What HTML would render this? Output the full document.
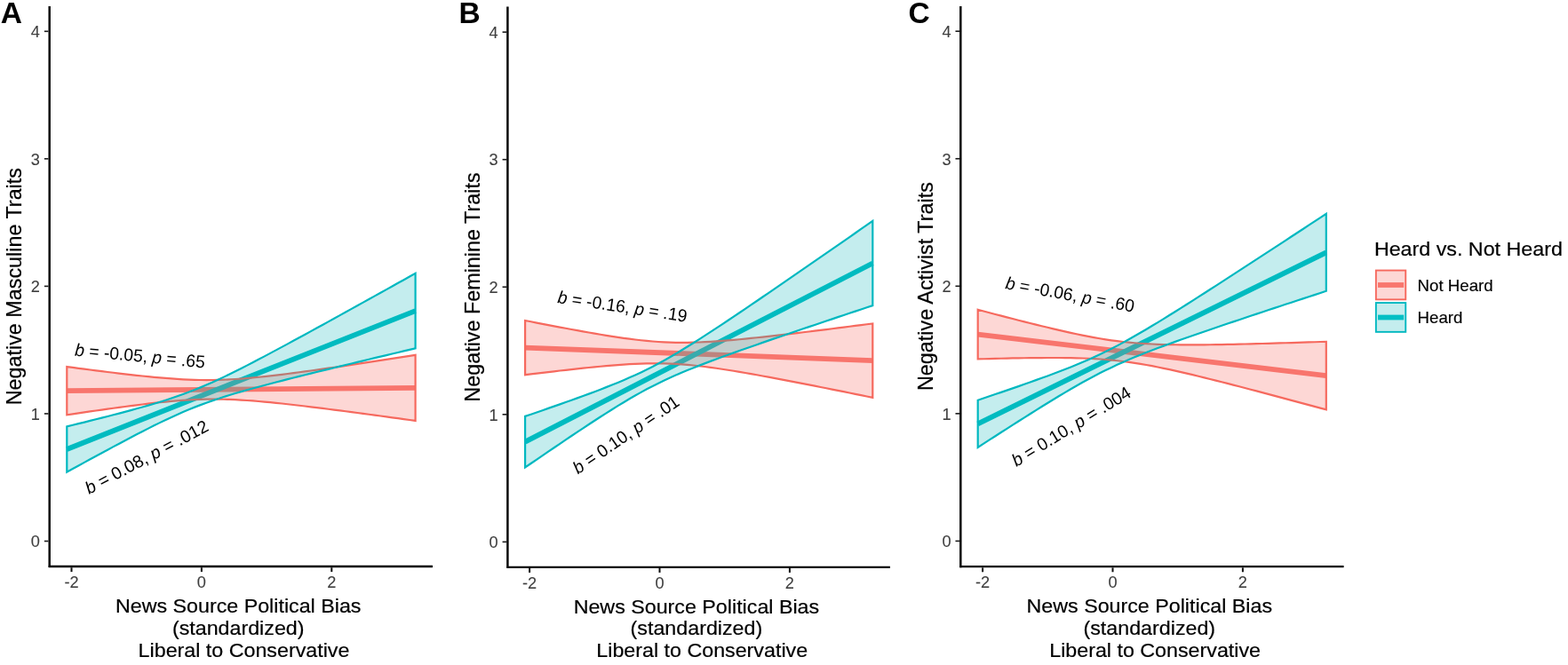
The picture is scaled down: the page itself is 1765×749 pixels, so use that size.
<!DOCTYPE html>
<html lang="en">
<head>
<meta charset="utf-8">
<title>Figure: Negative traits by news source political bias</title>
<style>
html,body{margin:0;padding:0;background:#fff;}
body{width:1765px;height:749px;overflow:hidden;}
svg{display:block;}
text{font-family:"Liberation Sans",Arial,Helvetica,sans-serif;fill:#000;}
.tk{font-size:18.2px;fill:#3F3F3F;stroke:#3F3F3F;stroke-width:0.1px;}
.ti{font-size:22.7px;stroke:#000;stroke-width:0.2px;}
.lg{font-size:18.3px;stroke:#000;stroke-width:0.15px;}
.pl{font-size:33.5px;font-weight:bold;}
.an{font-size:19.7px;}
</style>
</head>
<body>
<svg width="1765" height="749" viewBox="0 0 1765 749">
<rect x="0" y="0" width="1765" height="749" fill="#ffffff"/>
<g class="panel">
<line x1="75.3" y1="440.2" x2="467.6" y2="436.9" stroke="#F8766D" stroke-width="5.8"/>
<line x1="75.3" y1="506" x2="467.6" y2="350.1" stroke="#00BFC4" stroke-width="5.8"/>
<path d="M75.30 413.10 L81.84 413.96 L88.38 414.82 L94.91 415.67 L101.45 416.51 L107.99 417.34 L114.53 418.16 L121.07 418.97 L127.61 419.77 L134.15 420.55 L140.68 421.32 L147.22 422.06 L153.76 422.79 L160.30 423.49 L166.84 424.16 L173.38 424.80 L179.91 425.40 L186.45 425.95 L192.99 426.46 L199.53 426.91 L206.07 427.29 L212.61 427.61 L219.14 427.84 L225.68 427.99 L232.22 428.05 L238.76 428.02 L245.30 427.90 L251.83 427.68 L258.37 427.38 L264.91 426.99 L271.45 426.53 L277.99 426.01 L284.53 425.42 L291.06 424.78 L297.60 424.09 L304.14 423.36 L310.68 422.60 L317.22 421.80 L323.76 420.98 L330.30 420.13 L336.83 419.27 L343.37 418.38 L349.91 417.48 L356.45 416.57 L362.99 415.64 L369.53 414.71 L376.06 413.76 L382.60 412.81 L389.14 411.84 L395.68 410.87 L402.22 409.90 L408.75 408.92 L415.29 407.93 L421.83 406.94 L428.37 405.94 L434.91 404.94 L441.45 403.94 L447.99 402.93 L454.52 401.93 L461.06 400.91 L467.60 399.90 L467.60 473.90 L461.06 473.00 L454.52 472.09 L447.99 471.20 L441.45 470.30 L434.91 469.41 L428.37 468.52 L421.83 467.63 L415.29 466.75 L408.75 465.87 L402.22 465.00 L395.68 464.14 L389.14 463.28 L382.60 462.42 L376.06 461.58 L369.53 460.74 L362.99 459.92 L356.45 459.10 L349.91 458.30 L343.37 457.51 L336.83 456.73 L330.30 455.98 L323.76 455.24 L317.22 454.53 L310.68 453.84 L304.14 453.19 L297.60 452.57 L291.06 451.99 L284.53 451.46 L277.99 450.98 L271.45 450.57 L264.91 450.22 L258.37 449.94 L251.83 449.75 L245.30 449.64 L238.76 449.63 L232.22 449.71 L225.68 449.88 L219.14 450.14 L212.61 450.48 L206.07 450.91 L199.53 451.40 L192.99 451.96 L186.45 452.58 L179.91 453.24 L173.38 453.95 L166.84 454.70 L160.30 455.48 L153.76 456.29 L147.22 457.13 L140.68 457.98 L134.15 458.86 L127.61 459.75 L121.07 460.66 L114.53 461.58 L107.99 462.51 L101.45 463.45 L94.91 464.40 L88.38 465.36 L81.84 466.33 L75.30 467.30 Z" fill="#F8766D" fill-opacity="0.29" stroke="#F6695E" stroke-width="2.2" stroke-linejoin="miter"/>
<path d="M75.30 480.40 L81.84 478.79 L88.38 477.18 L94.91 475.56 L101.45 473.93 L107.99 472.29 L114.53 470.63 L121.07 468.96 L127.61 467.28 L134.15 465.57 L140.68 463.84 L147.22 462.09 L153.76 460.30 L160.30 458.48 L166.84 456.62 L173.38 454.70 L179.91 452.72 L186.45 450.68 L192.99 448.55 L199.53 446.33 L206.07 444.01 L212.61 441.58 L219.14 439.04 L225.68 436.37 L232.22 433.59 L238.76 430.70 L245.30 427.71 L251.83 424.62 L258.37 421.46 L264.91 418.23 L271.45 414.95 L277.99 411.61 L284.53 408.23 L291.06 404.81 L297.60 401.37 L304.14 397.90 L310.68 394.40 L317.22 390.89 L323.76 387.36 L330.30 383.82 L336.83 380.26 L343.37 376.69 L349.91 373.12 L356.45 369.53 L362.99 365.94 L369.53 362.34 L376.06 358.74 L382.60 355.13 L389.14 351.51 L395.68 347.89 L402.22 344.27 L408.75 340.65 L415.29 337.02 L421.83 333.39 L428.37 329.75 L434.91 326.11 L441.45 322.48 L447.99 318.83 L454.52 315.19 L461.06 311.55 L467.60 307.90 L467.60 392.30 L461.06 393.85 L454.52 395.40 L447.99 396.96 L441.45 398.51 L434.91 400.07 L428.37 401.63 L421.83 403.19 L415.29 404.76 L408.75 406.32 L402.22 407.89 L395.68 409.47 L389.14 411.05 L382.60 412.63 L376.06 414.22 L369.53 415.81 L362.99 417.41 L356.45 419.01 L349.91 420.62 L343.37 422.24 L336.83 423.87 L330.30 425.51 L323.76 427.17 L317.22 428.83 L310.68 430.52 L304.14 432.22 L297.60 433.95 L291.06 435.70 L284.53 437.48 L277.99 439.29 L271.45 441.15 L264.91 443.06 L258.37 445.03 L251.83 447.07 L245.30 449.18 L238.76 451.38 L232.22 453.69 L225.68 456.11 L219.14 458.64 L212.61 461.29 L206.07 464.05 L199.53 466.93 L192.99 469.91 L186.45 472.98 L179.91 476.13 L173.38 479.35 L166.84 482.63 L160.30 485.96 L153.76 489.34 L147.22 492.75 L140.68 496.19 L134.15 499.66 L127.61 503.15 L121.07 506.66 L114.53 510.19 L107.99 513.73 L101.45 517.29 L94.91 520.85 L88.38 524.43 L81.84 528.01 L75.30 531.60 Z" fill="#00B0B4" fill-opacity="0.23" stroke="#00B8C0" stroke-width="2.2" stroke-linejoin="miter"/>
<line x1="55.7" y1="7" x2="55.7" y2="639" stroke="#000" stroke-width="2.45"/>
<line x1="54.77" y1="638" x2="487" y2="638" stroke="#000" stroke-width="2.3"/>
<line x1="49.88" y1="609.5" x2="54.48" y2="609.5" stroke="#1a1a1a" stroke-width="1.6"/>
<text class="tk" x="44.9" y="616.25" text-anchor="end">0</text>
<line x1="49.88" y1="465.95" x2="54.48" y2="465.95" stroke="#1a1a1a" stroke-width="1.6"/>
<text class="tk" x="44.9" y="472.7" text-anchor="end">1</text>
<line x1="49.88" y1="322.4" x2="54.48" y2="322.4" stroke="#1a1a1a" stroke-width="1.6"/>
<text class="tk" x="44.9" y="329.15" text-anchor="end">2</text>
<line x1="49.88" y1="178.85" x2="54.48" y2="178.85" stroke="#1a1a1a" stroke-width="1.6"/>
<text class="tk" x="44.9" y="185.6" text-anchor="end">3</text>
<line x1="49.88" y1="35.3" x2="54.48" y2="35.3" stroke="#1a1a1a" stroke-width="1.6"/>
<text class="tk" x="44.9" y="42.05" text-anchor="end">4</text>
<line x1="80.5" y1="639.23" x2="80.5" y2="644.12" stroke="#0d0d0d" stroke-width="2.0"/>
<text class="tk" x="80.5" y="662.2" text-anchor="middle">-2</text>
<line x1="226.9" y1="639.23" x2="226.9" y2="644.12" stroke="#0d0d0d" stroke-width="2.0"/>
<text class="tk" x="226.9" y="662.2" text-anchor="middle">0</text>
<line x1="373.3" y1="639.23" x2="373.3" y2="644.12" stroke="#0d0d0d" stroke-width="2.0"/>
<text class="tk" x="373.3" y="662.2" text-anchor="middle">2</text>
<text class="ti" transform="translate(268.2 689.9) scale(1.025 1)" text-anchor="middle">News Source Political Bias</text>
<text class="ti" transform="translate(268.2 714.6) scale(1.025 1)" text-anchor="middle">(standardized)</text>
<text class="ti" transform="translate(274.5 739.6) scale(1.025 1)" text-anchor="middle">Liberal to Conservative</text>
<text class="ti" transform="translate(23.85 322.7) rotate(-90) scale(1.029 1.045)" text-anchor="middle">Negative Masculine Traits</text>
<text class="pl" x="0.8" y="26">A</text>
<text class="an" transform="translate(83.8 400.6) rotate(5.4)" textLength="147" lengthAdjust="spacingAndGlyphs" style="white-space:pre"><tspan font-style="italic">b</tspan> = -0.05, <tspan font-style="italic">p</tspan> = .65</text>
<text class="an" transform="translate(100.2 557) rotate(-28.1)" textLength="154" lengthAdjust="spacingAndGlyphs" style="white-space:pre"><tspan font-style="italic">b</tspan> = 0.08, <tspan font-style="italic">p</tspan> = .012</text>
</g>
<g class="panel">
<line x1="591.1" y1="391.6" x2="982.3" y2="406.1" stroke="#F8766D" stroke-width="5.8"/>
<line x1="591.1" y1="497.7" x2="982.3" y2="296.5" stroke="#00BFC4" stroke-width="5.8"/>
<path d="M591.10 361.00 L597.62 362.28 L604.14 363.56 L610.66 364.82 L617.18 366.08 L623.70 367.33 L630.22 368.57 L636.74 369.79 L643.26 371.00 L649.78 372.19 L656.30 373.37 L662.82 374.52 L669.34 375.65 L675.86 376.76 L682.38 377.83 L688.90 378.86 L695.42 379.85 L701.94 380.79 L708.46 381.68 L714.98 382.50 L721.50 383.25 L728.02 383.92 L734.54 384.50 L741.06 384.98 L747.58 385.37 L754.10 385.64 L760.62 385.81 L767.14 385.87 L773.66 385.83 L780.18 385.70 L786.70 385.48 L793.22 385.18 L799.74 384.82 L806.26 384.39 L812.78 383.92 L819.30 383.39 L825.82 382.83 L832.34 382.23 L838.86 381.60 L845.38 380.94 L851.90 380.26 L858.42 379.56 L864.94 378.84 L871.46 378.11 L877.98 377.37 L884.50 376.61 L891.02 375.84 L897.54 375.06 L904.06 374.27 L910.58 373.48 L917.10 372.68 L923.62 371.87 L930.14 371.06 L936.66 370.24 L943.18 369.42 L949.70 368.59 L956.22 367.76 L962.74 366.92 L969.26 366.08 L975.78 365.24 L982.30 364.40 L982.30 447.80 L975.78 446.47 L969.26 445.15 L962.74 443.83 L956.22 442.51 L949.70 441.19 L943.18 439.88 L936.66 438.58 L930.14 437.28 L923.62 435.98 L917.10 434.69 L910.58 433.40 L904.06 432.13 L897.54 430.86 L891.02 429.59 L884.50 428.34 L877.98 427.10 L871.46 425.87 L864.94 424.66 L858.42 423.46 L851.90 422.27 L845.38 421.11 L838.86 419.97 L832.34 418.86 L825.82 417.77 L819.30 416.73 L812.78 415.72 L806.26 414.76 L799.74 413.85 L793.22 413.00 L786.70 412.22 L780.18 411.52 L773.66 410.90 L767.14 410.38 L760.62 409.96 L754.10 409.64 L747.58 409.43 L741.06 409.33 L734.54 409.33 L728.02 409.43 L721.50 409.61 L714.98 409.88 L708.46 410.22 L701.94 410.62 L695.42 411.08 L688.90 411.59 L682.38 412.14 L675.86 412.73 L669.34 413.35 L662.82 413.99 L656.30 414.66 L649.78 415.36 L643.26 416.07 L636.74 416.79 L630.22 417.53 L623.70 418.29 L617.18 419.05 L610.66 419.83 L604.14 420.61 L597.62 421.40 L591.10 422.20 Z" fill="#F8766D" fill-opacity="0.29" stroke="#F6695E" stroke-width="2.2" stroke-linejoin="miter"/>
<path d="M591.10 468.90 L597.62 466.67 L604.14 464.42 L610.66 462.17 L617.18 459.91 L623.70 457.63 L630.22 455.34 L636.74 453.04 L643.26 450.71 L649.78 448.37 L656.30 446.00 L662.82 443.60 L669.34 441.16 L675.86 438.68 L682.38 436.15 L688.90 433.57 L695.42 430.92 L701.94 428.19 L708.46 425.36 L714.98 422.44 L721.50 419.39 L728.02 416.23 L734.54 412.93 L741.06 409.49 L747.58 405.93 L754.10 402.24 L760.62 398.44 L767.14 394.53 L773.66 390.54 L780.18 386.47 L786.70 382.34 L793.22 378.15 L799.74 373.91 L806.26 369.63 L812.78 365.32 L819.30 360.98 L825.82 356.61 L832.34 352.23 L838.86 347.82 L845.38 343.40 L851.90 338.97 L858.42 334.52 L864.94 330.06 L871.46 325.60 L877.98 321.12 L884.50 316.64 L891.02 312.15 L897.54 307.66 L904.06 303.16 L910.58 298.66 L917.10 294.15 L923.62 289.64 L930.14 285.12 L936.66 280.60 L943.18 276.08 L949.70 271.56 L956.22 267.03 L962.74 262.50 L969.26 257.97 L975.78 253.44 L982.30 248.90 L982.30 344.10 L975.78 346.27 L969.26 348.45 L962.74 350.62 L956.22 352.80 L949.70 354.98 L943.18 357.16 L936.66 359.34 L930.14 361.53 L923.62 363.72 L917.10 365.92 L910.58 368.12 L904.06 370.32 L897.54 372.53 L891.02 374.74 L884.50 376.96 L877.98 379.18 L871.46 381.41 L864.94 383.66 L858.42 385.90 L851.90 388.17 L845.38 390.44 L838.86 392.72 L832.34 395.03 L825.82 397.35 L819.30 399.69 L812.78 402.05 L806.26 404.45 L799.74 406.88 L793.22 409.35 L786.70 411.86 L780.18 414.44 L773.66 417.07 L767.14 419.79 L760.62 422.59 L754.10 425.49 L747.58 428.51 L741.06 431.65 L734.54 434.93 L728.02 438.33 L721.50 441.87 L714.98 445.54 L708.46 449.32 L701.94 453.20 L695.42 457.18 L688.90 461.23 L682.38 465.35 L675.86 469.53 L669.34 473.76 L662.82 478.03 L656.30 482.34 L649.78 486.67 L643.26 491.03 L636.74 495.41 L630.22 499.82 L623.70 504.23 L617.18 508.66 L610.66 513.11 L604.14 517.56 L597.62 522.03 L591.10 526.50 Z" fill="#00B0B4" fill-opacity="0.23" stroke="#00B8C0" stroke-width="2.2" stroke-linejoin="miter"/>
<line x1="571.4" y1="7.6" x2="571.4" y2="639.8" stroke="#000" stroke-width="2.45"/>
<line x1="570.47" y1="638.8" x2="1001.9" y2="638.8" stroke="#000" stroke-width="2.3"/>
<line x1="565.57" y1="610.35" x2="570.17" y2="610.35" stroke="#1a1a1a" stroke-width="1.6"/>
<text class="tk" x="560.6" y="617.1" text-anchor="end">0</text>
<line x1="565.57" y1="466.8" x2="570.17" y2="466.8" stroke="#1a1a1a" stroke-width="1.6"/>
<text class="tk" x="560.6" y="473.55" text-anchor="end">1</text>
<line x1="565.57" y1="323.25" x2="570.17" y2="323.25" stroke="#1a1a1a" stroke-width="1.6"/>
<text class="tk" x="560.6" y="330" text-anchor="end">2</text>
<line x1="565.57" y1="179.7" x2="570.17" y2="179.7" stroke="#1a1a1a" stroke-width="1.6"/>
<text class="tk" x="560.6" y="186.45" text-anchor="end">3</text>
<line x1="565.57" y1="36.15" x2="570.17" y2="36.15" stroke="#1a1a1a" stroke-width="1.6"/>
<text class="tk" x="560.6" y="42.9" text-anchor="end">4</text>
<line x1="596.1" y1="640.02" x2="596.1" y2="644.92" stroke="#0d0d0d" stroke-width="2.0"/>
<text class="tk" x="596.1" y="663" text-anchor="middle">-2</text>
<line x1="742.5" y1="640.02" x2="742.5" y2="644.92" stroke="#0d0d0d" stroke-width="2.0"/>
<text class="tk" x="742.5" y="663" text-anchor="middle">0</text>
<line x1="888.9" y1="640.02" x2="888.9" y2="644.92" stroke="#0d0d0d" stroke-width="2.0"/>
<text class="tk" x="888.9" y="663" text-anchor="middle">2</text>
<text class="ti" transform="translate(783.9 690.7) scale(1.025 1)" text-anchor="middle">News Source Political Bias</text>
<text class="ti" transform="translate(783.9 715.4) scale(1.025 1)" text-anchor="middle">(standardized)</text>
<text class="ti" transform="translate(790.2 740.4) scale(1.025 1)" text-anchor="middle">Liberal to Conservative</text>
<text class="ti" transform="translate(540.25 323.55) rotate(-90) scale(1.029 1.045)" text-anchor="middle">Negative Feminine Traits</text>
<text class="pl" x="516.5" y="26">B</text>
<text class="an" transform="translate(627 341) rotate(8.5)" textLength="147" lengthAdjust="spacingAndGlyphs" style="white-space:pre"><tspan font-style="italic">b</tspan> = -0.16, <tspan font-style="italic">p</tspan> = .19</text>
<text class="an" transform="translate(650.5 534.5) rotate(-34.3)" textLength="140" lengthAdjust="spacingAndGlyphs" style="white-space:pre"><tspan font-style="italic">b</tspan> = 0.10, <tspan font-style="italic">p</tspan> = .01</text>
</g>
<g class="panel">
<line x1="1100.7" y1="376.6" x2="1492.8" y2="423.1" stroke="#F8766D" stroke-width="5.8"/>
<line x1="1100.7" y1="477.3" x2="1492.8" y2="284.3" stroke="#00BFC4" stroke-width="5.8"/>
<path d="M1100.70 348.80 L1107.24 350.52 L1113.77 352.24 L1120.31 353.95 L1126.84 355.65 L1133.38 357.35 L1139.91 359.03 L1146.44 360.70 L1152.98 362.35 L1159.52 363.99 L1166.05 365.62 L1172.59 367.22 L1179.12 368.80 L1185.65 370.36 L1192.19 371.88 L1198.72 373.37 L1205.26 374.83 L1211.80 376.23 L1218.33 377.58 L1224.87 378.88 L1231.40 380.10 L1237.93 381.25 L1244.47 382.32 L1251.01 383.30 L1257.54 384.18 L1264.08 384.97 L1270.61 385.66 L1277.14 386.25 L1283.68 386.76 L1290.21 387.17 L1296.75 387.52 L1303.29 387.79 L1309.82 388.00 L1316.36 388.16 L1322.89 388.27 L1329.42 388.34 L1335.96 388.37 L1342.49 388.37 L1349.03 388.34 L1355.57 388.30 L1362.10 388.23 L1368.63 388.14 L1375.17 388.04 L1381.70 387.92 L1388.24 387.79 L1394.78 387.65 L1401.31 387.50 L1407.85 387.34 L1414.38 387.18 L1420.91 387.01 L1427.45 386.83 L1433.98 386.64 L1440.52 386.45 L1447.05 386.26 L1453.59 386.06 L1460.12 385.86 L1466.66 385.65 L1473.19 385.44 L1479.73 385.23 L1486.26 385.02 L1492.80 384.80 L1492.80 461.40 L1486.26 459.63 L1479.73 457.87 L1473.19 456.11 L1466.66 454.35 L1460.12 452.59 L1453.59 450.84 L1447.05 449.09 L1440.52 447.35 L1433.98 445.61 L1427.45 443.87 L1420.91 442.14 L1414.38 440.42 L1407.85 438.71 L1401.31 437.00 L1394.78 435.30 L1388.24 433.61 L1381.70 431.93 L1375.17 430.26 L1368.63 428.61 L1362.10 426.97 L1355.57 425.35 L1349.03 423.76 L1342.49 422.18 L1335.96 420.63 L1329.42 419.11 L1322.89 417.63 L1316.36 416.19 L1309.82 414.80 L1303.29 413.46 L1296.75 412.18 L1290.21 410.98 L1283.68 409.84 L1277.14 408.80 L1270.61 407.84 L1264.08 406.98 L1257.54 406.22 L1251.01 405.55 L1244.47 404.98 L1237.93 404.50 L1231.40 404.10 L1224.87 403.77 L1218.33 403.52 L1211.80 403.32 L1205.26 403.17 L1198.72 403.08 L1192.19 403.02 L1185.65 402.99 L1179.12 403.00 L1172.59 403.03 L1166.05 403.08 L1159.52 403.16 L1152.98 403.25 L1146.44 403.35 L1139.91 403.47 L1133.38 403.60 L1126.84 403.75 L1120.31 403.90 L1113.77 404.06 L1107.24 404.23 L1100.70 404.40 Z" fill="#F8766D" fill-opacity="0.29" stroke="#F6695E" stroke-width="2.2" stroke-linejoin="miter"/>
<path d="M1100.70 450.70 L1107.24 448.50 L1113.77 446.29 L1120.31 444.08 L1126.84 441.85 L1133.38 439.61 L1139.91 437.36 L1146.44 435.09 L1152.98 432.80 L1159.52 430.49 L1166.05 428.16 L1172.59 425.81 L1179.12 423.41 L1185.65 420.98 L1192.19 418.51 L1198.72 415.98 L1205.26 413.40 L1211.80 410.74 L1218.33 408.00 L1224.87 405.17 L1231.40 402.23 L1237.93 399.19 L1244.47 396.03 L1251.01 392.76 L1257.54 389.37 L1264.08 385.87 L1270.61 382.27 L1277.14 378.57 L1283.68 374.80 L1290.21 370.95 L1296.75 367.04 L1303.29 363.08 L1309.82 359.08 L1316.36 355.04 L1322.89 350.96 L1329.42 346.86 L1335.96 342.74 L1342.49 338.59 L1349.03 334.42 L1355.57 330.24 L1362.10 326.05 L1368.63 321.84 L1375.17 317.63 L1381.70 313.40 L1388.24 309.17 L1394.78 304.93 L1401.31 300.68 L1407.85 296.43 L1414.38 292.17 L1420.91 287.90 L1427.45 283.64 L1433.98 279.37 L1440.52 275.09 L1447.05 270.81 L1453.59 266.53 L1460.12 262.25 L1466.66 257.96 L1473.19 253.68 L1479.73 249.39 L1486.26 245.09 L1492.80 240.80 L1492.80 327.80 L1486.26 329.94 L1479.73 332.08 L1473.19 334.22 L1466.66 336.37 L1460.12 338.52 L1453.59 340.67 L1447.05 342.82 L1440.52 344.97 L1433.98 347.13 L1427.45 349.30 L1420.91 351.46 L1414.38 353.63 L1407.85 355.81 L1401.31 357.99 L1394.78 360.17 L1388.24 362.37 L1381.70 364.57 L1375.17 366.77 L1368.63 368.99 L1362.10 371.22 L1355.57 373.46 L1349.03 375.71 L1342.49 377.98 L1335.96 380.26 L1329.42 382.57 L1322.89 384.90 L1316.36 387.26 L1309.82 389.65 L1303.29 392.08 L1296.75 394.56 L1290.21 397.08 L1283.68 399.67 L1277.14 402.33 L1270.61 405.07 L1264.08 407.90 L1257.54 410.83 L1251.01 413.88 L1244.47 417.03 L1237.93 420.31 L1231.40 423.70 L1224.87 427.20 L1218.33 430.80 L1211.80 434.50 L1205.26 438.27 L1198.72 442.12 L1192.19 446.02 L1185.65 449.98 L1179.12 453.99 L1172.59 458.03 L1166.05 462.10 L1159.52 466.21 L1152.98 470.33 L1146.44 474.48 L1139.91 478.64 L1133.38 482.82 L1126.84 487.02 L1120.31 491.22 L1113.77 495.44 L1107.24 499.67 L1100.70 503.90 Z" fill="#00B0B4" fill-opacity="0.23" stroke="#00B8C0" stroke-width="2.2" stroke-linejoin="miter"/>
<line x1="1081.3" y1="7" x2="1081.3" y2="639.15" stroke="#000" stroke-width="2.45"/>
<line x1="1080.38" y1="638.15" x2="1512.6" y2="638.15" stroke="#000" stroke-width="2.3"/>
<line x1="1075.48" y1="609.4" x2="1080.08" y2="609.4" stroke="#1a1a1a" stroke-width="1.6"/>
<text class="tk" x="1070.5" y="616.15" text-anchor="end">0</text>
<line x1="1075.48" y1="465.85" x2="1080.08" y2="465.85" stroke="#1a1a1a" stroke-width="1.6"/>
<text class="tk" x="1070.5" y="472.6" text-anchor="end">1</text>
<line x1="1075.48" y1="322.3" x2="1080.08" y2="322.3" stroke="#1a1a1a" stroke-width="1.6"/>
<text class="tk" x="1070.5" y="329.05" text-anchor="end">2</text>
<line x1="1075.48" y1="178.75" x2="1080.08" y2="178.75" stroke="#1a1a1a" stroke-width="1.6"/>
<text class="tk" x="1070.5" y="185.5" text-anchor="end">3</text>
<line x1="1075.48" y1="35.2" x2="1080.08" y2="35.2" stroke="#1a1a1a" stroke-width="1.6"/>
<text class="tk" x="1070.5" y="41.95" text-anchor="end">4</text>
<line x1="1106.1" y1="639.38" x2="1106.1" y2="644.27" stroke="#0d0d0d" stroke-width="2.0"/>
<text class="tk" x="1106.1" y="662.35" text-anchor="middle">-2</text>
<line x1="1252.5" y1="639.38" x2="1252.5" y2="644.27" stroke="#0d0d0d" stroke-width="2.0"/>
<text class="tk" x="1252.5" y="662.35" text-anchor="middle">0</text>
<line x1="1398.9" y1="639.38" x2="1398.9" y2="644.27" stroke="#0d0d0d" stroke-width="2.0"/>
<text class="tk" x="1398.9" y="662.35" text-anchor="middle">2</text>
<text class="ti" transform="translate(1293.8 690.05) scale(1.025 1)" text-anchor="middle">News Source Political Bias</text>
<text class="ti" transform="translate(1293.8 714.75) scale(1.025 1)" text-anchor="middle">(standardized)</text>
<text class="ti" transform="translate(1300.1 739.75) scale(1.025 1)" text-anchor="middle">Liberal to Conservative</text>
<text class="ti" transform="translate(1050.25 322.6) rotate(-90) scale(1.029 1.045)" text-anchor="middle">Negative Activist Traits</text>
<text class="pl" x="1022.4" y="26.2">C</text>
<text class="an" transform="translate(1131 325) rotate(10.5)" textLength="147" lengthAdjust="spacingAndGlyphs" style="white-space:pre"><tspan font-style="italic">b</tspan> = -0.06, <tspan font-style="italic">p</tspan> = .60</text>
<text class="an" transform="translate(1144 526) rotate(-31.5)" textLength="153" lengthAdjust="spacingAndGlyphs" style="white-space:pre"><tspan font-style="italic">b</tspan> = 0.10, <tspan font-style="italic">p</tspan> = .004</text>
</g>
<g class="legend">
<text class="ti" transform="translate(1546.9 288.4) scale(1.025 1)">Heard vs. Not Heard</text>
<rect x="1548.85" y="304.55" width="33.4" height="32.8" fill="#F8766D" fill-opacity="0.29" stroke="#F6695E" stroke-width="1.9"/>
<line x1="1551" y1="321" x2="1580.2" y2="321" stroke="#F8766D" stroke-width="5.8"/>
<text class="lg" transform="translate(1595.6 327.5) scale(1.02 1)">Not Heard</text>
<rect x="1548.85" y="341.05" width="33.4" height="32.8" fill="#00B0B4" fill-opacity="0.23" stroke="#00B8C0" stroke-width="1.9"/>
<line x1="1551" y1="357.5" x2="1580.2" y2="357.5" stroke="#00BFC4" stroke-width="5.8"/>
<text class="lg" transform="translate(1595.6 364) scale(1.02 1)">Heard</text>
</g>
</svg>
</body>
</html>
